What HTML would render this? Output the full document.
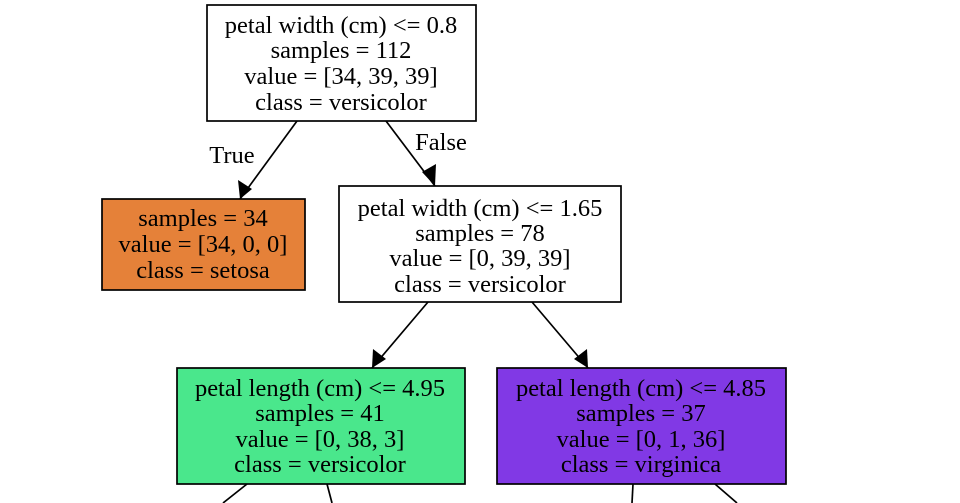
<!DOCTYPE html>
<html><head><style>
html,body{margin:0;padding:0;background:#fff;}
svg{display:block;}
text{font-family:"Liberation Serif",serif;font-size:24.5px;fill:#000;text-anchor:middle;}
</style></head><body>
<svg width="960" height="503" viewBox="0 0 960 503" xmlns="http://www.w3.org/2000/svg">
<g stroke="#000" stroke-width="1.7" fill="none">
<line x1="297" y1="121" x2="240" y2="199"/>
<line x1="386" y1="121" x2="435" y2="186"/>
<line x1="428" y1="302" x2="372" y2="368"/>
<line x1="532" y1="302" x2="588" y2="368"/>
<line x1="247" y1="484" x2="223" y2="503"/>
<line x1="327" y1="484" x2="332" y2="503"/>
<line x1="633" y1="484" x2="632" y2="503"/>
<line x1="715" y1="484" x2="737" y2="503"/>
</g>
<g fill="#000">
<polygon points="240,199 238,180 252,189"/>
<polygon points="435,186 422,172 436,164"/>
<polygon points="372,368 373,349 386,359"/>
<polygon points="588,368 574,359 587,349"/>
</g>
<rect x="207" y="5" width="269" height="116" fill="#fff" stroke="#000" stroke-width="1.7"/>
<rect x="102" y="199" width="203" height="91" fill="#e58139" stroke="#000" stroke-width="1.7"/>
<rect x="339" y="186" width="282" height="116" fill="#fff" stroke="#000" stroke-width="1.7"/>
<rect x="177" y="368" width="288" height="116" fill="#4ae78c" stroke="#000" stroke-width="1.7"/>
<rect x="497" y="368" width="289" height="116" fill="#8139e5" stroke="#000" stroke-width="1.7"/>
<text x="341" y="33">petal width (cm) &lt;= 0.8</text>
<text x="341" y="58">samples = 112</text>
<text x="341" y="84">value = [34, 39, 39]</text>
<text x="341" y="110">class = versicolor</text>
<text x="232" y="163">True</text>
<text x="441" y="150">False</text>
<text x="203" y="226">samples = 34</text>
<text x="203" y="252">value = [34, 0, 0]</text>
<text x="203" y="278">class = setosa</text>
<text x="480" y="216">petal width (cm) &lt;= 1.65</text>
<text x="480" y="241">samples = 78</text>
<text x="480" y="266">value = [0, 39, 39]</text>
<text x="480" y="292">class = versicolor</text>
<text x="320" y="396">petal length (cm) &lt;= 4.95</text>
<text x="320" y="421">samples = 41</text>
<text x="320" y="447">value = [0, 38, 3]</text>
<text x="320" y="472">class = versicolor</text>
<text x="641" y="396">petal length (cm) &lt;= 4.85</text>
<text x="641" y="421">samples = 37</text>
<text x="641" y="447">value = [0, 1, 36]</text>
<text x="641" y="472">class = virginica</text>
</svg>
</body></html>
